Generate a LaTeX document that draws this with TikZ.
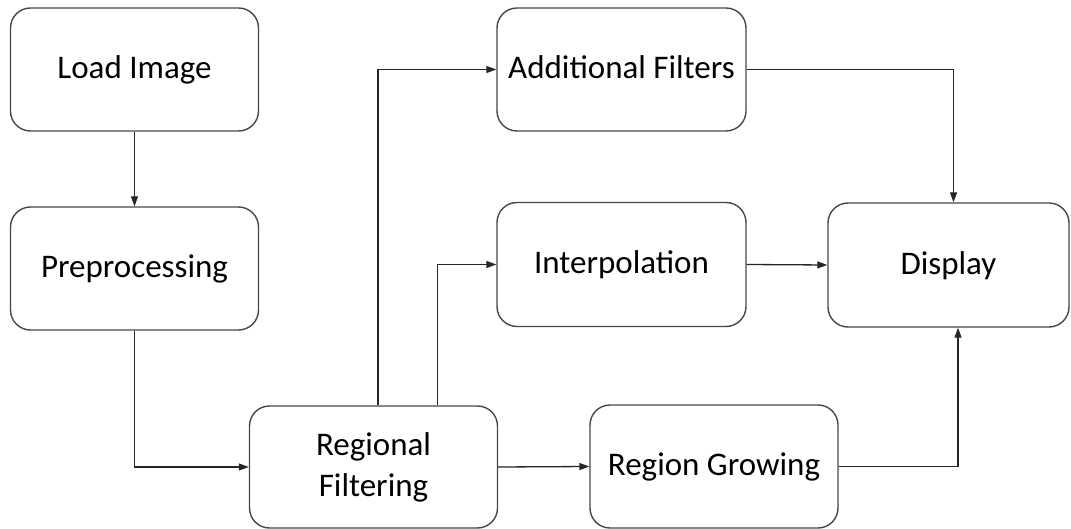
\documentclass[tikz,border=0pt]{standalone}
\usepackage{fontspec}
\setmainfont{Carlito}
\usetikzlibrary{arrows.meta}
\tikzset{
  box/.style={draw=black!72, line width=1.4bp, rounded corners=20bp, fill=white,
    minimum width=248bp, minimum height=123bp, inner sep=0pt, align=center,
    text depth=4bp,
    font=\fontsize{33bp}{41bp}\selectfont, text=black},
  arr/.style={draw=black!85, line width=1.3bp, -{Triangle[length=10bp,width=7bp]}}
}
\begin{document}
\begin{tikzpicture}[x=1bp,y=-1bp]
\useasboundingbox[fill=white] (0,0) rectangle (1071,529);
\node[box] (load) at (134.5,69.5) {Load Image};
\node[box] (pre) at (134.5,268.5) {Preprocessing};
\node[box, minimum height=122bp] (reg) at (373.5,467) {Regional\\Filtering};
\node[box, minimum width=249bp] (add) at (621.5,69.5) {Additional Filters};
\node[box, minimum width=249bp, minimum height=124bp] (interp) at (621.5,264.5) {Interpolation};
\node[box, minimum width=241bp, minimum height=124bp] (disp) at (948.5,265) {Display};
\node[box] (grow) at (714,466.5) {Region Growing};
\draw[arr] (load.south) -- (pre.north);
\draw[arr] (pre.south) |- (reg.west);
\draw[arr] ([xshift=4.5bp]reg.north) |- (add.west);
\draw[arr] ([xshift=64bp]reg.north) |- (interp.west);
\draw[arr] (reg.east) -- (grow.west);
\draw[arr] (add.east) -| ([xshift=5bp]disp.north);
\draw[arr] (interp.east) -- (disp.west);
\draw[arr] (grow.east) -| ([xshift=9.5bp]disp.south);
\end{tikzpicture}
\end{document}
